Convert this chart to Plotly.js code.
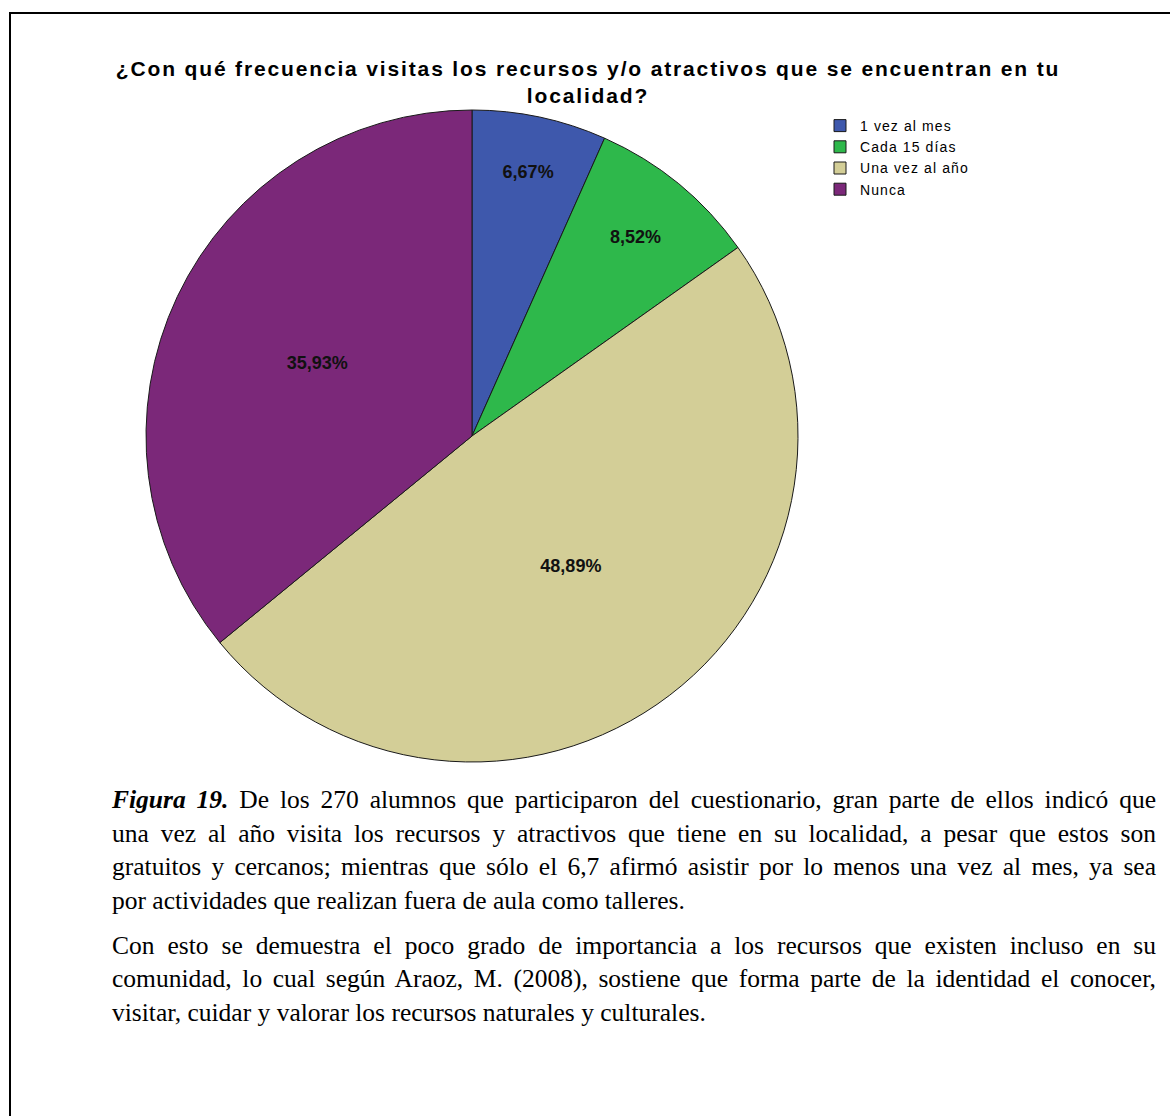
<!DOCTYPE html>
<html>
<head>
<meta charset="utf-8">
<script src="https://cdn.plot.ly/plotly-3.0.1.min.js"></script>
<style>
  html, body { margin: 0; padding: 0; background: #ffffff; }
  body { width: 1170px; height: 1116px; overflow: hidden; position: relative; }
  #frame { position: absolute; left: 9px; top: 12px; width: 1200px; height: 1200px;
           border: 2px solid #000; box-sizing: border-box; }
  #chart { position: absolute; left: 0; top: 0; width: 1170px; height: 770px; }
  .gtitle { letter-spacing: 1.85px; }
  .legendtext { letter-spacing: 1.1px; }
  #caption { position: absolute; left: 112px; top: 783px; width: 1044px;
             font-family: "Liberation Serif", "Times New Roman", serif; font-size: 25.5px;
             line-height: 33.5px; color: #000; }
  #caption p { margin: 0 0 11.5px 0; }
  #caption .ln { display: block; white-space: nowrap; text-align: justify; text-align-last: justify; }
  #caption .ln.last { text-align-last: left; }
</style>
</head>
<body>
<div id="frame"></div>
<div id="chart"></div>
<div id="caption">
  <p>
    <span class="ln"><b><i>Figura 19.</i></b> De los 270 alumnos que participaron del cuestionario, gran parte de ellos indicó que</span>
    <span class="ln">una vez al año visita los recursos y atractivos que tiene en su localidad, a pesar que estos son</span>
    <span class="ln">gratuitos y cercanos; mientras que sólo el 6,7 afirmó asistir por lo menos una vez al mes, ya sea</span>
    <span class="ln last">por actividades que realizan fuera de aula como talleres.</span>
  </p>
  <p>
    <span class="ln">Con esto se demuestra el poco grado de importancia a los recursos que existen incluso en su</span>
    <span class="ln">comunidad, lo cual según Araoz, M. (2008), sostiene que forma parte de la identidad el conocer,</span>
    <span class="ln last">visitar, cuidar y valorar los recursos naturales y culturales.</span>
  </p>
</div>
<script>
const categories = ["1 vez al mes", "Cada 15 días", "Una vez al año", "Nunca"];
const counts = [18, 23, 132, 97];
const colors = ["#3E58AC", "#2EB84B", "#D3CE97", "#7B2879"];
const chartTitle = "¿Con qué frecuencia visitas los recursos y/o atractivos que se encuentran en tu<br>localidad?";

const W = 1170, H = 770;
const cx = 472, cy = 436, r = 326;

const trace = {
  type: "pie",
  labels: categories,
  values: counts,
  sort: false,
  direction: "clockwise",
  rotation: 0,
  marker: { colors: colors, line: { color: "#1a1a1a", width: 1 } },
  textinfo: "percent",
  texttemplate: "%{percent:.2%}",
  textposition: "inside",
  insidetextorientation: "horizontal",
  textfont: { family: "Liberation Sans, Arial, sans-serif", size: 18, color: "#111111", weight: "bold" },
  hoverinfo: "label+percent",
  domain: { x: [(cx - r) / W, (cx + r) / W], y: [1 - (cy + r) / H, 1 - (cy - r) / H] }
};

const layout = {
  width: W, height: H,
  margin: { l: 0, r: 0, t: 0, b: 0 },
  paper_bgcolor: "rgba(0,0,0,0)",
  plot_bgcolor: "rgba(0,0,0,0)",
  separators: ",.",
  title: {
    text: chartTitle,
    x: 588 / W, xanchor: "center",
    y: 1 - 76 / H, yanchor: "top",
    font: { family: "Liberation Sans, Arial, sans-serif", size: 21, color: "#000", weight: "bold" }
  },
  showlegend: true,
  legend: {
    x: 820 / W, xanchor: "left",
    y: 1 - 110 / H, yanchor: "top",
    bgcolor: "rgba(0,0,0,0)",
    font: { family: "Liberation Sans, Arial, sans-serif", size: 14, color: "#000" },
    itemwidth: 30,
    tracegroupgap: 0
  }
};

Plotly.newPlot("chart", [trace], layout, { displayModeBar: false, staticPlot: true });
</script>
</body>
</html>
